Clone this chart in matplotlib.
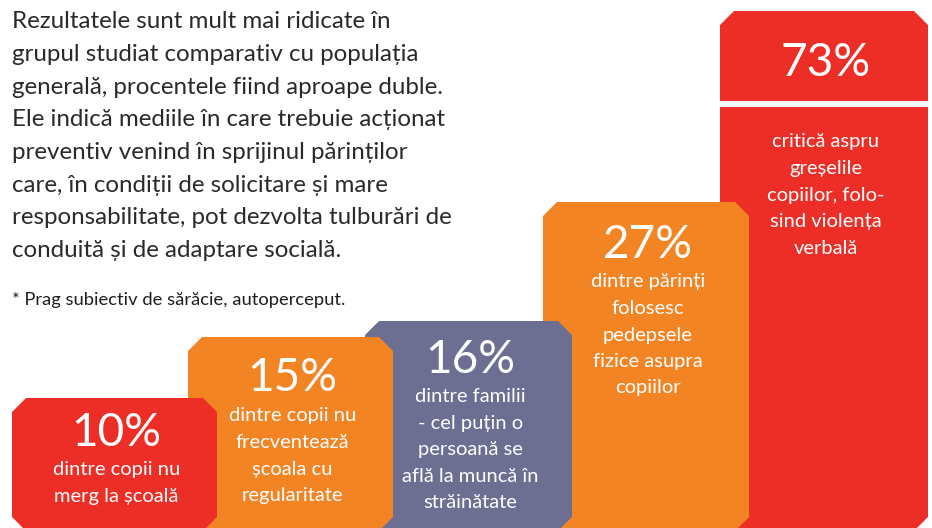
import matplotlib
matplotlib.use("Agg")
import matplotlib.pyplot as plt
from matplotlib.patches import Polygon, Rectangle

# data
values = [10, 15, 16, 27, 73]
descriptions = [
    ["dintre copii nu", "merg la școală"],
    ["dintre copii nu", "frecventează", "școala cu", "regularitate"],
    ["dintre familii", "- cel puțin o", "persoană se", "află la muncă în", "străinătate"],
    ["dintre părinți", "folosesc", "pedepsele", "fizice asupra", "copiilor"],
    ["critică aspru", "greșelile", "copiilor, folo-", "sind violența", "verbală"],
]
box_colors = ["#ED2E26", "#F38424", "#6C6E92", "#F38424", "#ED2E26"]

paragraph = [
    "Rezultatele sunt mult mai ridicate în",
    "grupul studiat comparativ cu populația",
    "generală, procentele fiind aproape duble.",
    "Ele indică mediile în care trebuie acționat",
    "preventiv venind în sprijinul părinților",
    "care, în condiții de solicitare și mare",
    "responsabilitate, pot dezvolta tulburări de",
    "conduită și de adaptare socială.",
]
footnote = "* Prag subiectiv de sărăcie, autoperceput."

# layout (pixels): left, right, top of each box, y of percent label, y of first desc line
box_left = [12, 188, 365, 543, 720]
box_right = [217, 393, 572, 749, 928]
box_top = [398, 337, 321, 202, 11]
pct_y = [433, 378, 360, 245, 63]
desc_y = [470, 416, 397, 282, 142]
W, H = 932, 528
BOTTOM = 531
CUT = 14

fig = plt.figure(figsize=(W / 100, H / 100), dpi=100)
ax = fig.add_axes([0, 0, 1, 1])
ax.set_xlim(0, W)
ax.set_ylim(H, 0)
ax.axis("off")

font = "Lato"
n = len(values)
for i in range(n):
    x0, x1, y0 = box_left[i], box_right[i], box_top[i]
    pts = [(x0, y0 + CUT), (x0 + CUT, y0), (x1 - CUT, y0), (x1, y0 + CUT),
           (x1, BOTTOM - CUT), (x1 - CUT, BOTTOM), (x0 + CUT, BOTTOM), (x0, BOTTOM - CUT)]
    z = 10 * (n - i)  # left boxes sit on top of the ones to their right
    ax.add_patch(Polygon(pts, closed=True, facecolor=box_colors[i], edgecolor="none", zorder=z))
    cx = (x0 + x1) / 2 + 2
    ax.text(cx, pct_y[i], f"{values[i]}%", color="white", fontsize=33, family=font,
            ha="center", va="center", zorder=z + 1)
    for k, line in enumerate(descriptions[i]):
        ax.text(cx, desc_y[i] + k * 26.5, line, color="white", fontsize=14.5, family=font,
                ha="center", va="center", zorder=z + 1)

# white divider in the tallest box
ax.add_patch(Rectangle((box_left[4], 101), box_right[4] - box_left[4], 6,
                       facecolor="white", edgecolor="none", zorder=12))

for k, line in enumerate(paragraph):
    ax.text(12, 22 + k * 32.6, line, color="#2A2A2A", fontsize=17.4, family=font,
            ha="left", va="center")
ax.text(12, 300, footnote, color="#1E1E1E", fontsize=13.2, family=font, ha="left", va="center")

plt.savefig("out.png", dpi=100)
plt.close()
